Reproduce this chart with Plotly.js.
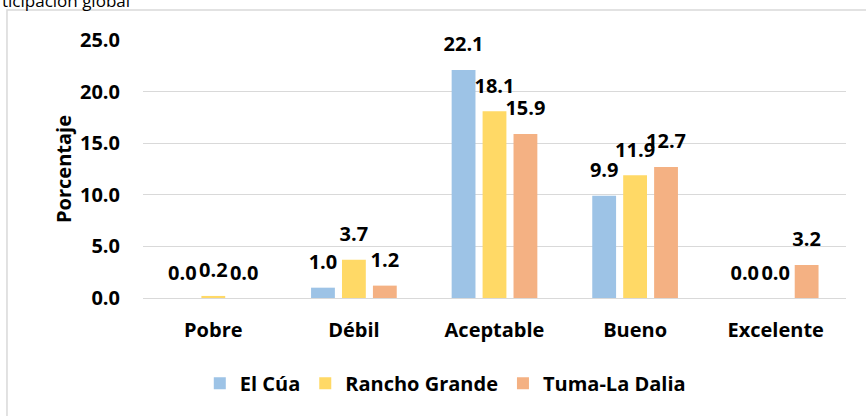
<!DOCTYPE html>
<html>
<head>
<meta charset="utf-8">
<script src="https://cdn.plot.ly/plotly-3.0.1.min.js"></script>
<style>html,body{margin:0;padding:0;background:#fff;}#chart{width:866px;height:416px;}</style>
</head>
<body>
<div id="chart"></div>
<script>
const categories = ["Pobre", "Débil", "Aceptable", "Bueno", "Excelente"];
const seriesNames = ["El Cúa", "Rancho Grande", "Tuma-La Dalia"];
const elCua = [0.0, 1.0, 22.1, 9.9, 0.0];
const ranchoGrande = [0.2, 3.7, 18.1, 11.9, 0.0];
const tumaLaDalia = [0.0, 1.2, 15.9, 12.7, 3.2];
const yTicks = [0, 5, 10, 15, 20, 25];
const titleText = "ticipación global";
const yTitle = "Porcentaje";

const colors = ["#9DC3E6", "#FFD966", "#F4B183"];
const font = "'Open Sans', sans-serif";
const seriesData = [elCua, ranchoGrande, tumaLaDalia];

const barTraces = seriesData.map((vals, i) => ({
  type: "bar",
  name: seriesNames[i],
  x: categories,
  y: vals,
  marker: {color: colors[i]},
  offsetgroup: String(i),
  hoverinfo: "x+y+name"
}));

const labelTraces = seriesData.map((vals, i) => ({
  type: "scatter",
  mode: "markers+text",
  name: seriesNames[i],
  x: categories,
  y: vals,
  offsetgroup: String(i),
  marker: {size: 20, opacity: 0, color: colors[i]},
  text: vals.map(v => v.toFixed(1)),
  textposition: "top center",
  textfont: {family: font, size: 20, color: "#000", weight: "bold"},
  cliponaxis: false,
  showlegend: false,
  hoverinfo: "skip"
}));

const layout = {
  width: 866, height: 416,
  margin: {l: 143, r: 20, t: 40, b: 118},
  paper_bgcolor: "#fff", plot_bgcolor: "#fff",
  font: {family: font, color: "#000"},
  barmode: "group",
  bargap: 0.34,
  bargroupgap: 0.23,
  scattermode: "group",
  scattergap: 0.34,
  showlegend: true,
  legend: {
    orientation: "h", x: 0.43, xanchor: "center", y: -0.33, yanchor: "middle",
    font: {family: font, size: 20, weight: "bold"},
    itemwidth: 30, tracegroupgap: 0
  },
  xaxis: {
    type: "category",
    showgrid: false,
    showline: true, linecolor: "#d9d9d9", linewidth: 1,
    ticks: "",
    ticklabelstandoff: 14,
    tickfont: {family: font, size: 20, weight: "bold"}
  },
  yaxis: {
    range: [0, 25],
    tickvals: yTicks,
    ticktext: yTicks.map(v => v.toFixed(1)),
    showgrid: true, gridcolor: "#d9d9d9", gridwidth: 1,
    zeroline: false, showline: false, ticks: "",
    ticklabelstandoff: 22,
    tickfont: {family: font, size: 20, weight: "bold"},
    title: {text: yTitle, font: {family: font, size: 20, weight: "bold"}, standoff: 2}
  },
  annotations: [{
    text: titleText, xref: "paper", yref: "paper",
    x: -0.2034, xanchor: "left", y: 1.155, yanchor: "middle",
    showarrow: false, font: {family: font, size: 17, color: "#000"}
  }],
  shapes: [{
    type: "rect", xref: "paper", yref: "paper",
    x0: -0.1935, x1: 1.05, y0: -0.5, y1: 1.1163,
    line: {color: "#d9d9d9", width: 1.5}, fillcolor: "rgba(0,0,0,0)", layer: "below"
  }]
};

Plotly.newPlot("chart", barTraces.concat(labelTraces), layout, {displayModeBar: false, responsive: false});
</script>
</body>
</html>
